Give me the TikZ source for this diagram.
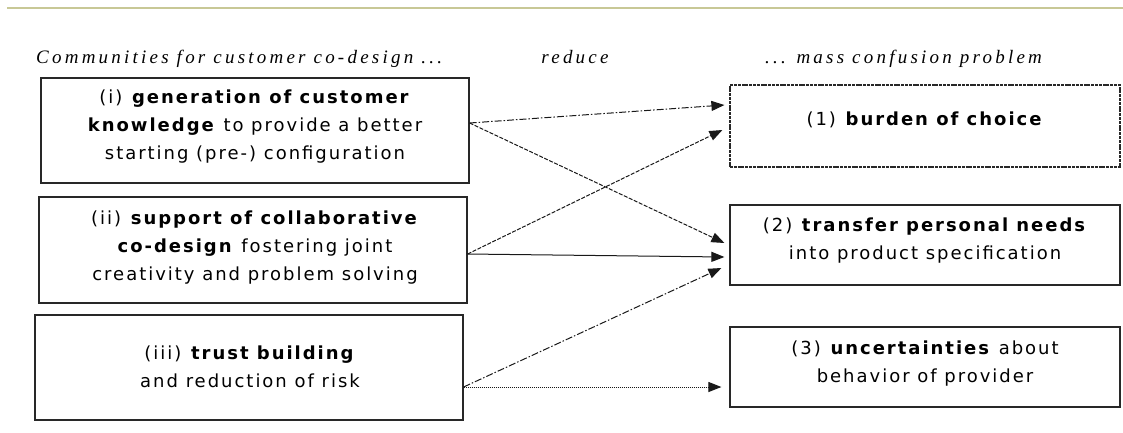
\documentclass[tikz,border=0pt]{standalone}
\usepackage{fontspec}
\usetikzlibrary{arrows.meta,calc}
\newfontfamily\boxfont{DejaVu Sans}[LetterSpace=11]
\newfontfamily\headfont{Liberation Serif}[LetterSpace=17]
\definecolor{ruleolive}{RGB}{200,200,150}
\definecolor{boxline}{RGB}{40,40,40}
\tikzset{
  probbox/.style={draw=boxline, line width=1.2pt, minimum width=#1, inner sep=0pt},
  boxtext/.style={align=center, font=\boxfont\fontsize{18}{28}\selectfont, inner sep=0pt},
  headtext/.style={font=\headfont\itshape\fontsize{19}{22}\selectfont, inner sep=0pt},
  link/.style={line width=1pt, draw=black!90, -{Triangle[length=13pt,width=10pt]}},
  dashdot/.style={dash pattern=on 7pt off 2pt on 1.5pt off 2pt},
  shortdash/.style={dash pattern=on 4pt off 1.5pt},
}
\begin{document}
\begin{tikzpicture}[x=1pt,y=-1pt]
\useasboundingbox (0,0) rectangle (1123,432);
\draw[ruleolive, line width=2pt] (7,8) -- (1123,8);

% headers
\node[headtext, anchor=base west] (h1) at (36,63) {Communities for customer co-design ...};
\node[headtext, anchor=base] (h2) at (575,63) {reduce};
\node[headtext, anchor=base west] (h3) at (765,63) {... mass confusion problem};

% left boxes
\node[probbox=428pt, minimum height=105pt] (b1) at (255,130.5) {};
\node[probbox=428pt, minimum height=106pt] (b2) at (253,250) {};
\node[probbox=428pt, minimum height=105pt] (b3) at (249,367.5) {};
% right boxes
\node[probbox=390pt, minimum height=82pt, dash pattern=on 3pt off 0.8pt] (r1) at (925,126) {};
\node[probbox=390pt, minimum height=80pt] (r2) at (925,245) {};
\node[probbox=390pt, minimum height=80pt] (r3) at (925,367) {};

% texts
\node[boxtext] (t1) at (255,127) {(i) \textbf{generation of customer}\\\textbf{knowledge} to provide a better\\starting (pre-) configuration};
\node[boxtext] (t2) at (255,248) {(ii) \textbf{support of collaborative}\\\textbf{co-design} fostering joint\\creativity and problem solving};
\node[boxtext] (t3) at (250,366.5) {(iii) \textbf{trust building}\\and reduction of risk};
\node[boxtext] (u1) at (925,120) {(1) \textbf{burden of choice}};
\node[boxtext] (u2) at (925,241) {(2) \textbf{transfer personal needs}\\into product specification};
\node[boxtext] (u3) at (925,364) {(3) \textbf{uncertainties} about\\behavior of provider};

% connectors
\draw[link, dashdot] ([yshift=7.5pt]b1.east) -- ([xshift=-5pt,yshift=21pt]r1.west);
\draw[link, shortdash] ([yshift=7.5pt]b1.east) -- ([xshift=-5pt,yshift=2pt]r2.west);
\draw[link, shortdash] ([yshift=-4pt]b2.east) -- ([xshift=-7pt,yshift=-4pt]r1.west);
\draw[link] ([yshift=-4pt]b2.east) -- ([xshift=-5pt,yshift=-12pt]r2.west);
\draw[link, dashdot] ([yshift=-19.5pt]b3.east) -- ([xshift=-8pt,yshift=-23pt]r2.west);
\draw[link, densely dotted] ([yshift=-19.5pt]b3.east) -- ([xshift=-8pt,yshift=-20pt]r3.west);
\end{tikzpicture}
\end{document}
